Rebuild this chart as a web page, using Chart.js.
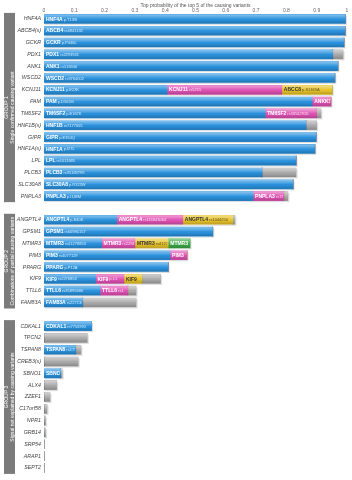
<!DOCTYPE html>
<html>
<head>
<meta charset="utf-8">
<script src="https://cdn.jsdelivr.net/npm/chart.js@4.4.1/dist/chart.umd.min.js"></script>
<style>
html, body { margin: 0; padding: 0; background: #fff; }
</style>
</head>
<body>
<canvas id="chart" width="352" height="480"></canvas>
<script>
// Genes per group (an empty category separates the groups)
const group1Genes = ['HNF4A', 'ABCB4(s)', 'GCKR', 'PDX1', 'ANK1', 'WSCD2', 'KCNJ11', 'PAM',
    'TM6SF2', 'HNF1B(s)', 'GIPR', 'HNF1A(s)', 'LPL', 'PLCB3', 'SLC30A8', 'PNPLA3'];
const group2Genes = ['ANGPTL4', 'GPSM1', 'MTMR3', 'PIM3', 'PPARG', 'KIF9', 'TTLL6', 'FAM83A'];
const group3Genes = ['CDKAL1', 'TPCN2', 'TSPAN8', 'CREB3(s)', 'SBNO1', 'ALX4', 'ZZEF1',
    'C17orf58', 'NPR1', 'GRB14', 'SRP54', 'ARAP1', 'SEPT2'];

// Probability segments (stacked)
const blueValues1 = [0.995, 0.994, 0.99, 0.953, 0.97, 0.96, 0.406, 0.885, 0.73, 0.865, 0.898, 0.894, 0.832, 0.72, 0.822, 0.69];
const pinkValues1 = [0, 0, 0, 0, 0, 0, 0.379, 0.062, 0.17, 0, 0, 0, 0, 0, 0, 0.102];
const yellowValues1 = [0, 0, 0, 0, 0, 0, 0.166, 0, 0, 0, 0, 0, 0, 0, 0, 0];
const greenValues1 = [0, 0, 0, 0, 0, 0, 0, 0, 0, 0, 0, 0, 0, 0, 0, 0];
const grayValues1 = [0, 0, 0, 0.034, 0, 0, 0, 0, 0.014, 0.035, 0, 0, 0, 0.112, 0, 0.013];

const blueValues2 = [0.24, 0.557, 0.19, 0.416, 0.41, 0.17, 0.185, 0.128];
const pinkValues2 = [0.218, 0, 0.11, 0.056, 0, 0.094, 0.092, 0];
const yellowValues2 = [0.165, 0, 0.11, 0, 0, 0.059, 0, 0];
const greenValues2 = [0, 0, 0.072, 0, 0, 0, 0, 0];
const grayValues2 = [0.007, 0, 0, 0, 0, 0.062, 0.027, 0.176];

const blueValues3 = [0.157, 0, 0.105, 0, 0.055, 0, 0, 0, 0, 0, 0, 0, 0];
const pinkValues3 = [0, 0, 0, 0, 0, 0, 0, 0, 0, 0, 0, 0, 0];
const yellowValues3 = [0, 0, 0, 0, 0, 0, 0, 0, 0, 0, 0, 0, 0];
const greenValues3 = [0, 0, 0, 0, 0, 0, 0, 0, 0, 0, 0, 0, 0];
const grayValues3 = [0, 0.143, 0.017, 0.113, 0.005, 0.042, 0.02, 0.01, 0.005, 0.005, 0, 0, 0];

// Text written inside the segments
const blueLabels1 = ['HNF4A p.T139I', 'ABCB4 rs4841132', 'GCKR p.P446L', 'PDX1 rs2293941', 'ANK1 rs516946',
    'WSCD2 rs3764002', 'KCNJ11 p.E23K', 'PAM p.D563G', 'TM6SF2 p.E167K', 'HNF1B rs7177055',
    'GIPR p.E354Q', 'HNF1A p.I27L', 'LPL rs1011685', 'PLCB3 rs35169799', 'SLC30A8 p.R325W', 'PNPLA3 p.I148M'];
const pinkLabels1 = ['', '', '', '', '', '', 'KCNJ11 rs5215', 'ANKK1', 'TM6SF2 rs58542926', '', '', '', '', '', '', 'PNPLA3 rs738409'];
const yellowLabels1 = ['', '', '', '', '', '', 'ABCC8 p.S1369A', '', '', '', '', '', '', '', '', ''];
const blueLabels2 = ['ANGPTL4 p.E40K', 'GPSM1 rs60980157', 'MTMR3 rs41278853', 'PIM3 rs4077129', 'PPARG p.P12A',
    'KIF9 rs2276853', 'TTLL6 rs35895680', 'FAM83A rs2271308'];
const pinkLabels2 = ['ANGPTL4 rs116843064', '', 'MTMR3 rs2294124', 'PIM3', '', 'KIF9 p.L1', 'TTLL6 rs1', ''];
const yellowLabels2 = ['ANGPTL4 rs1044250', '', 'MTMR3 rs41278', '', '', 'KIF9', '', ''];
const greenLabels2 = ['', '', 'MTMR3 p', '', '', '', '', ''];
const blueLabels3 = ['CDKAL1 rs7756992', '', 'TSPAN8 rs1796330', '', 'SBNO1', '', '', '', '', '', '', '', ''];

const groupTitles = ['GROUP 1', 'GROUP 2', 'GROUP 3'];
const groupSubtitles = ['Single confirmed causing variant', 'Combinations of partial causing variants',
    'Signal not explained by causing variants'];

const axisTitle = 'Top probability of the top 5 of the causing variants';
const xTicks = [0, 0.1, 0.2, 0.3, 0.4, 0.5, 0.6, 0.7, 0.8, 0.9, 1];

// Join the groups with one empty row between them
function joinGroups(a, b, c, gap) {
    return [...a, gap, ...b, gap, ...c];
}

const labels = joinGroups(group1Genes, group2Genes, group3Genes, '');
const groups = [
    { start: 0, end: group1Genes.length - 1 },
    { start: group1Genes.length + 1, end: group1Genes.length + group2Genes.length },
    { start: group1Genes.length + group2Genes.length + 2, end: labels.length - 1 }
];

const series = [
    { name: 'blue', color: '#2a92de', data: joinGroups(blueValues1, blueValues2, blueValues3, null),
      text: joinGroups(blueLabels1, blueLabels2, blueLabels3, '') },
    { name: 'pink', color: '#e052b4', data: joinGroups(pinkValues1, pinkValues2, pinkValues3, null),
      text: joinGroups(pinkLabels1, pinkLabels2, blueLabels3.map(() => ''), '') },
    { name: 'yellow', color: '#e9c42a', data: joinGroups(yellowValues1, yellowValues2, yellowValues3, null),
      text: joinGroups(yellowLabels1, yellowLabels2, blueLabels3.map(() => ''), '') },
    { name: 'green', color: '#3daa48', data: joinGroups(greenValues1, greenValues2, greenValues3, null),
      text: joinGroups(pinkLabels1.map(() => ''), greenLabels2, blueLabels3.map(() => ''), '') },
    { name: 'gray', color: '#ababab', data: joinGroups(grayValues1, grayValues2, grayValues3, null),
      text: labels.map(() => '') }
];

// Gray boxes with the group names on the left (drawn before the axes)
const groupBoxes = {
    id: 'groupBoxes',
    beforeDraw(chart) {
        const ctx = chart.ctx;
        const y = chart.scales.y;
        ctx.save();
        groups.forEach((g, k) => {
            const top = y.getPixelForValue(g.start) - 6;
            const bottom = y.getPixelForValue(g.end) + 6;
            ctx.fillStyle = '#7b7b7b';
            ctx.fillRect(4, top, 11, bottom - top);
            ctx.save();
            ctx.translate(9.5, (top + bottom) / 2);
            ctx.rotate(-Math.PI / 2);
            ctx.fillStyle = '#ffffff';
            ctx.textAlign = 'center';
            ctx.textBaseline = 'middle';
            ctx.font = '5px "Liberation Sans"';
            ctx.fillText(groupTitles[k], 0, -2.5);
            ctx.fillText(groupSubtitles[k], 0, 2.8);
            ctx.restore();
        });
        ctx.restore();
    },
    beforeDatasetsDraw(chart) {
        // soft shadow under every bar
        const ctx = chart.ctx;
        ctx.save();
        labels.forEach((lab, i) => {
            let end = null, start = null, el = null;
            chart.data.datasets.forEach((ds, d) => {
                const e = chart.getDatasetMeta(d).data[i];
                if (ds.data[i] > 0 && e) {
                    el = e;
                    end = end === null ? e.x : Math.max(end, e.x);
                    start = start === null ? e.base : Math.min(start, e.base);
                }
            });
            if (el) {
                ctx.fillStyle = 'rgba(0,0,0,0.13)';
                ctx.fillRect(start + 1, el.y - el.height / 2 + 1.5, end - start + 0.5, el.height);
            }
        });
        ctx.restore();
    }
};

// Gloss on the bars and the small labels inside them
const barDecor = {
    id: 'barDecor',
    afterDatasetsDraw(chart) {
        const ctx = chart.ctx;
        ctx.save();
        chart.data.datasets.forEach((ds, d) => {
            chart.getDatasetMeta(d).data.forEach((el, i) => {
                if (!(ds.data[i] > 0)) return;
                const top = el.y - el.height / 2;
                const w = el.x - el.base;
                const grad = ctx.createLinearGradient(0, top, 0, top + el.height);
                grad.addColorStop(0, 'rgba(255,255,255,0.45)');
                grad.addColorStop(0.45, 'rgba(255,255,255,0.08)');
                grad.addColorStop(0.55, 'rgba(0,0,0,0)');
                grad.addColorStop(1, 'rgba(0,0,0,0.2)');
                ctx.fillStyle = grad;
                ctx.fillRect(el.base, top, w, el.height);
            });
        });

        chart.data.datasets.forEach((ds, d) => {
            const texts = series[d].text;
            chart.getDatasetMeta(d).data.forEach((el, i) => {
                const t = texts[i];
                if (!t || !(ds.data[i] > 0)) return;
                const top = el.y - el.height / 2;
                const w = el.x - el.base;
                const parts = t.split(' ');
                const gene = parts[0];
                const rest = parts.slice(1).join(' ');
                ctx.save();
                ctx.beginPath();
                ctx.rect(el.base, top, w - 1, el.height);
                ctx.clip();
                const dark = series[d].name === 'yellow';
                ctx.fillStyle = dark ? '#333' : '#fff';
                ctx.textBaseline = 'middle';
                ctx.font = 'bold 5px "Liberation Sans"';
                ctx.fillText(gene, el.base + 2, el.y + 0.3);
                const gw = ctx.measureText(gene).width;
                ctx.font = '4px "Liberation Sans"';
                ctx.globalAlpha = 0.8;
                ctx.fillText(rest, el.base + 3 + gw, el.y + 0.5);
                ctx.restore();
            });
        });
        ctx.restore();
    }
};

new Chart(document.getElementById('chart').getContext('2d'), {
    type: 'bar',
    data: {
        labels: labels,
        datasets: series.map(s => ({
            label: s.name,
            data: s.data,
            backgroundColor: s.color,
            borderWidth: 0,
            barThickness: 9
        }))
    },
    options: {
        indexAxis: 'y',
        responsive: false,
        animation: false,
        layout: { padding: { top: 0, right: 5, bottom: 5, left: 0 } },
        plugins: {
            legend: { display: false },
            tooltip: { enabled: false }
        },
        scales: {
            x: {
                position: 'top',
                stacked: true,
                min: 0,
                max: 1,
                afterBuildTicks: scale => { scale.ticks = xTicks.map(v => ({ value: v })); },
                afterFit: scale => { scale.height = 13; },
                ticks: {
                    font: { size: 5, family: 'Liberation Sans' },
                    color: '#666',
                    padding: -1,
                    maxRotation: 0,
                    callback: v => (v === 0 || v === 1) ? String(v) : v.toFixed(1)
                },
                grid: { display: false, drawTicks: false },
                border: { display: false },
                title: {
                    display: true,
                    text: axisTitle,
                    font: { size: 5, family: 'Liberation Sans' },
                    color: '#555',
                    padding: { top: 2.5, bottom: 0 }
                }
            },
            y: {
                stacked: true,
                afterFit: scale => { scale.width = 44; },
                ticks: {
                    autoSkip: false,
                    padding: 3,
                    color: '#444',
                    font: { size: 5.3, style: 'italic', family: 'Liberation Sans' }
                },
                grid: { display: false, drawTicks: false },
                border: { display: false }
            }
        }
    },
    plugins: [groupBoxes, barDecor]
});
</script>
</body>
</html>
